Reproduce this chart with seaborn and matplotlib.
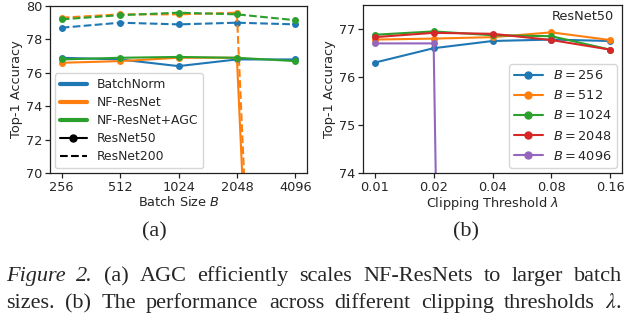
import numpy as np
import pandas as pd
import matplotlib
matplotlib.use("Agg")
import matplotlib.pyplot as plt
from matplotlib.lines import Line2D
import seaborn as sns

sns.set_style("ticks")
plt.rcParams["font.family"] = ["DejaVu Sans"]
plt.rcParams["mathtext.fontset"] = "dejavusans"

# ---------------- data ----------------
batch_labels = ["256", "512", "1024", "2048", "4096"]
bn_r50 = [76.9, 76.8, 76.4, 76.8, 76.8]
bn_r200 = [78.7, 79.0, 78.9, 79.0, 78.9]
nf_r50 = [76.6, 76.7, 76.9, 76.9, 0.1]
nf_r200 = [79.3, 79.5, 79.5, 79.6, 0.1]
agc_r50 = [76.8, 76.9, 76.95, 76.9, 76.7]
agc_r200 = [79.2, 79.45, 79.6, 79.5, 79.15]

clip_labels = ["0.01", "0.02", "0.04", "0.08", "0.16"]
b256 = [76.3, 76.6, 76.75, 76.78, 76.75]
b512 = [76.78, 76.8, 76.83, 76.93, 76.77]
b1024 = [76.88, 76.95, 76.87, 76.85, 76.57]
b2048 = [76.83, 76.92, 76.9, 76.77, 76.57]
b4096 = [76.7, 76.7, 0.1, 0.1, 0.1]
b_names = ["256", "512", "1024", "2048", "4096"]

pal = sns.color_palette("tab10")
blue, orange, green, red, purple = pal[0], pal[1], pal[2], pal[3], pal[4]

W, H = 628, 322
fig = plt.figure(figsize=(W / 100, H / 100), dpi=100)
axA = fig.add_axes([50 / W, 1 - 173 / H, 257 / W, 167 / H])
axB = fig.add_axes([363 / W, 1 - 173 / H, 259 / W, 168 / H])

FS = 9.3
LFS = 8.9
lw = 1.5
ms = 5

pos = np.arange(5)

def draw(ax, y, color, ls="-"):
    sns.lineplot(x=pos, y=y, ax=ax, color=color, linestyle=ls, marker="o",
                 markersize=ms, markeredgewidth=0, linewidth=lw, legend=False)

# panel (a)
for y, c, ls in [(bn_r200, blue, "--"), (nf_r200, orange, "--"), (agc_r200, green, "--"),
                 (bn_r50, blue, "-"), (nf_r50, orange, "-"), (agc_r50, green, "-")]:
    draw(axA, y, c, ls)

axA.set_xlim(-0.2, 4.2)
axA.set_ylim(70, 80)
axA.set_xticks(pos)
axA.set_xticklabels(batch_labels)
axA.set_yticks([70, 72, 74, 76, 78, 80])
axA.set_xlabel("Batch Size $B$", fontsize=FS, labelpad=1)
axA.set_ylabel("Top-1 Accuracy", fontsize=FS, labelpad=2)

handles = [Line2D([], [], color=blue, lw=3, label="BatchNorm"),
           Line2D([], [], color=orange, lw=3, label="NF-ResNet"),
           Line2D([], [], color=green, lw=3, label="NF-ResNet+AGC"),
           Line2D([], [], color="black", lw=lw, marker="o", ms=ms, label="ResNet50"),
           Line2D([], [], color="black", lw=lw, ls="--", label="ResNet200")]
axA.legend(handles=handles, loc="lower left", fontsize=LFS, frameon=True,
           borderaxespad=0.4, handlelength=2.2, labelspacing=0.4)

# panel (b)
for y, c in zip([b256, b512, b1024, b2048, b4096], [blue, orange, green, red, purple]):
    draw(axB, y, c)

axB.set_xlim(-0.2, 4.2)
axB.set_ylim(74, 77.5)
axB.set_xticks(pos)
axB.set_xticklabels(clip_labels)
axB.set_yticks([74, 75, 76, 77])
axB.set_xlabel("Clipping Threshold $\\lambda$", fontsize=FS, labelpad=1)
axB.set_ylabel("Top-1 Accuracy", fontsize=FS, labelpad=2)
axB.text(0.97, 0.93, "ResNet50", transform=axB.transAxes, ha="right", va="center", fontsize=FS)
hB = [Line2D([], [], color=c, lw=lw, marker="o", ms=ms, label=f"$B = {n}$")
      for c, n in zip([blue, orange, green, red, purple], b_names)]
axB.legend(handles=hB, loc="lower right", fontsize=FS, frameon=True,
           borderaxespad=0.4, handlelength=2.2, labelspacing=0.55)

for ax in (axA, axB):
    for s in ax.spines.values():
        s.set_visible(True)
        s.set_color("#222222")
        s.set_linewidth(0.9)
    ax.tick_params(labelsize=FS, length=3.5, width=0.9, color="#222222", pad=2)

# sub-labels
serif = ["Liberation Serif", "DejaVu Serif"]
CFS = 16
fig.text(154 / W, 1 - 232 / H, "(a)", ha="center", va="center", fontsize=CFS, family=serif)
fig.text(466 / W, 1 - 232 / H, "(b)", ha="center", va="center", fontsize=CFS, family=serif)

# justified caption
line1 = [("Figure", "italic"), ("2.", "italic"), ("(a)", "normal"), ("AGC", "normal"),
         ("efficiently", "normal"), ("scales", "normal"), ("NF-ResNets", "normal"),
         ("to", "normal"), ("larger", "normal"), ("batch", "normal")]
line2 = [("sizes.", "normal"), ("(b)", "normal"), ("The", "normal"), ("performance", "normal"),
         ("across", "normal"), ("different", "normal"), ("clipping", "normal"),
         ("thresholds", "normal"), ("$\\lambda$.", "normal")]

renderer = fig.canvas.get_renderer()
x0, x1 = 6, 622
for words, base in [(line1, 281), (line2, 308)]:
    texts = []
    for w, st in words:
        t = fig.text(0, 1 - base / H, w, ha="left", va="baseline", fontsize=CFS,
                     family=serif, style=st,
                     math_fontfamily="stix" if "$" in w else None)
        texts.append(t)
    widths = [t.get_window_extent(renderer).width for t in texts]
    gap = (x1 - x0 - sum(widths)) / (len(words) - 1)
    x = x0
    for t, wd in zip(texts, widths):
        t.set_x(x / W)
        x += wd + gap

fig.savefig("out.png", dpi=100)
